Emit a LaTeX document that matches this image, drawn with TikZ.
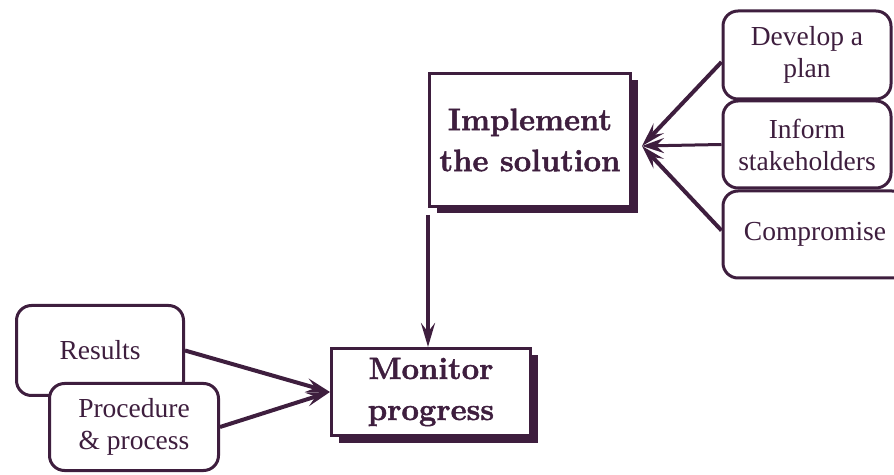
\documentclass[tikz,border=0pt]{standalone}
\usepackage{fontspec}
\newfontfamily\tms{Liberation Serif}
\newfontfamily\heavy{Latin Modern Roman}[BoldFeatures={FakeBold=1.5}]
\usetikzlibrary{arrows.meta,shadows}
\definecolor{plum}{RGB}{62,30,62}
\tikzset{
  soft/.style={draw=plum, line width=3pt, rounded corners=15pt, fill=white,
    inner sep=0pt, font=\tms\fontsize{27.5}{32}\selectfont, text=plum, align=center},
  hard/.style={draw=plum, line width=3pt, fill=white, inner sep=0pt,
    font=\heavy\fontsize{31}{41}\selectfont\bfseries, text=plum, align=center,
    drop shadow={opacity=1, fill=plum, shadow xshift=7pt, shadow yshift=-7pt}},
  arr/.style={draw=plum, line width=4pt, -{Stealth[length=24pt,width=14pt,inset=9pt]}},
  thinarr/.style={draw=plum, line width=3pt, -{Stealth[length=22pt,width=15pt,inset=8pt]}}
}
\begin{document}
\begin{tikzpicture}[x=1pt,y=1pt]
\useasboundingbox (0,0) rectangle (894,474);
\clip (0,0) rectangle (894,474);
% right column
\node[soft, minimum width=168pt, minimum height=88pt] (dev) at (807,419) {Develop a\\plan};
\node[soft, minimum width=168pt, minimum height=87pt] (inf) at (807,329.5) {Inform\\stakeholders};
\node[soft, minimum width=184pt, minimum height=87pt] (comp) at (815,239.5) {Compromise};
% main boxes
\node[hard, minimum width=201pt, minimum height=133pt] (impl) at (530,334) {Implement\\the solution};
\node[hard, minimum width=199pt, minimum height=87pt] (mon) at (431,82) {Monitor\\progress};
% left column
\node[soft, minimum width=167pt, minimum height=90pt] (res) at (100,123.5) {Results};
\node[soft, minimum width=169pt, minimum height=87pt] (proc) at (134,47) {Procedure\\\& process};
% connectors
\coordinate (tip) at ([xshift=10pt,yshift=-6pt]impl.east);
\draw[arr] ([yshift=-7pt]dev.west) -- (tip);
\draw[thinarr] (inf.west) -- (tip);
\draw[arr] ([yshift=4pt]comp.west) -- (tip);
\draw[arr] ([yshift=-7pt]impl.south west) -- (impl.south west |- mon.north);
\draw[arr] (res.east) -- (mon.west);
\draw[arr] (proc.east) -- (mon.west);
\end{tikzpicture}
\end{document}
